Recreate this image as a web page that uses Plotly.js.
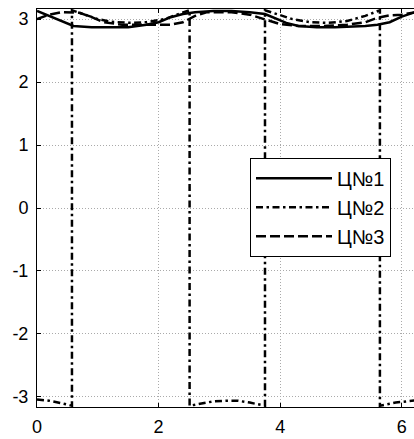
<!DOCTYPE html>
<html>
<head>
<meta charset="utf-8">
<script src="https://cdn.plot.ly/plotly-3.0.1.min.js"></script>
<style>
html,body{margin:0;padding:0;background:#fff;overflow:hidden;}
#chart{width:424px;height:439px;}
</style>
</head>
<body>
<div id="chart"></div>
<script>
// Ц№1 (solid)
var x1 = [0, 0.2, 0.4, 0.6, 0.9, 1.2, 1.5, 1.8, 2.0, 2.2, 2.4, 2.6, 2.9, 3.2, 3.5, 3.75, 3.9, 4.1, 4.3, 4.6, 4.9, 5.2, 5.4, 5.6, 5.8, 6.0, 6.283];
var y1 = [3.13, 3.05, 2.97, 2.89, 2.87, 2.87, 2.87, 2.91, 2.95, 3.03, 3.08, 3.11, 3.13, 3.13, 3.11, 3.08, 3.02, 2.94, 2.89, 2.87, 2.87, 2.88, 2.89, 2.91, 2.95, 3.04, 3.13];
// Ц№2 (dash-dot), wrapped at ±π
var x2 = [0, 0.2, 0.4, 0.575, 0.575, 0.8, 1.0, 1.2, 1.5, 1.8, 2.1, 2.3, 2.51, 2.51, 2.7, 2.9, 3.1, 3.3, 3.5, 3.75, 3.75, 4.0, 4.2, 4.5, 4.8, 5.1, 5.4, 5.64, 5.64, 5.9, 6.1, 6.283];
var y2 = [-3.04, -3.06, -3.1, -3.14, 3.14, 3.06, 3.0, 2.96, 2.94, 2.95, 3.0, 3.07, 3.14, -3.14, -3.1, -3.07, -3.06, -3.06, -3.09, -3.14, 3.14, 3.06, 3.0, 2.95, 2.94, 2.97, 3.05, 3.14, -3.14, -3.09, -3.07, -3.05];
// Ц№3 (dashed)
var x3 = [0, 0.2, 0.4, 0.7, 0.9, 1.1, 1.4, 1.8, 2.2, 2.4, 2.6, 2.8, 3.2, 3.5, 3.75, 4.0, 4.3, 4.7, 5.1, 5.4, 5.6, 5.8, 6.0, 6.283];
var y3 = [3.0, 3.07, 3.11, 3.10, 3.03, 2.95, 2.91, 2.91, 2.91, 2.95, 3.05, 3.11, 3.11, 3.07, 3.0, 2.92, 2.89, 2.89, 2.91, 2.95, 3.02, 3.06, 3.07, 3.12];

var names = ['Ц№1', 'Ц№2', 'Ц№3'];
var xTicks = [0, 2, 4, 6];
var yTicks = [-3, -2, -1, 0, 1, 2, 3];

var font = 'Arial, "Liberation Sans", sans-serif';
var traces = [
  {x: x1, y: y1, name: names[0], mode: 'lines', line: {color: '#000', width: 2.5}},
  {x: x2, y: y2, name: names[1], mode: 'lines', line: {color: '#000', width: 2.5, dash: '7px,3.5px,2.5px,3.5px'}},
  {x: x3, y: y3, name: names[2], mode: 'lines', line: {color: '#000', width: 2.5, dash: '10px,4px'}}
];
var axisCommon = {
  showline: true, linecolor: '#000', linewidth: 1, mirror: 'ticks',
  ticks: 'inside', ticklen: 4, tickcolor: '#000', tickwidth: 1,
  showgrid: true, gridcolor: '#aaaaaa', gridwidth: 1, griddash: '1px,2px',
  zeroline: false, color: '#000'
};
var layout = {
  width: 424, height: 439,
  margin: {l: 37, r: 5, t: 9, b: 31.5},
  paper_bgcolor: '#fff', plot_bgcolor: '#fff',
  font: {family: font, color: '#000'},
  showlegend: true,
  legend: {
    x: 0.5576, y: 0.626, xanchor: 'left', yanchor: 'top',
    bgcolor: '#fff', bordercolor: '#000', borderwidth: 1,
    font: {family: font, size: 20, color: '#000'},
    itemwidth: 76, tracegroupgap: 0
  },
  xaxis: Object.assign({}, axisCommon, {
    range: [0, 6.2832], tickvals: xTicks, ticktext: xTicks.map(String),
    tickfont: {family: font, size: 18}, ticklabelstandoff: 3
  }),
  yaxis: Object.assign({}, axisCommon, {
    range: [-3.16, 3.16], tickvals: yTicks, ticktext: yTicks.map(String),
    tickfont: {family: font, size: 18}, ticklabelstandoff: 4
  })
};
Plotly.newPlot('chart', traces, layout, {displayModeBar: false, staticPlot: true});
</script>
</body>
</html>
